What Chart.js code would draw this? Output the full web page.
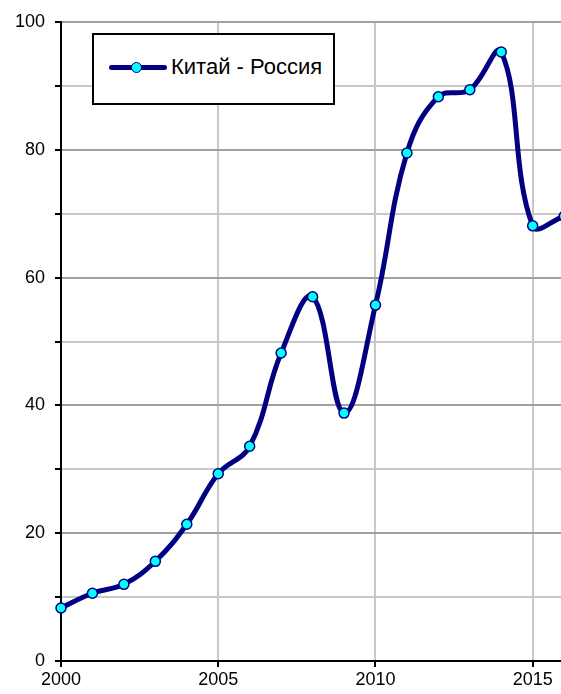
<!DOCTYPE html>
<html>
<head>
<meta charset="utf-8">
<script src="https://cdn.jsdelivr.net/npm/chart.js@4/dist/chart.umd.min.js"></script>
<style>
  html, body { margin: 0; padding: 0; background: #fff; }
  #wrap { position: relative; width: 561px; height: 694px; }
  #legend {
    position: absolute; left: 92px; top: 33px; width: 239px; height: 68px;
    border: 2px solid #000; background: #fff;
    font-family: Arial, "Liberation Sans", sans-serif; font-size: 22px; color: #000;
  }
  #legend .line { position: absolute; left: 15px; top: 30px; width: 58px; height: 5px; background: #000080; border-radius: 3px; }
  #legend .dot { position: absolute; left: 37px; top: 27px; width: 9px; height: 9px; border-radius: 50%; background: #00ffff; border: 1.5px solid #000080; }
  #legend .txt { position: absolute; left: 77px; top: 19px; line-height: 26px; }
</style>
</head>
<body>
<div id="wrap">
  <canvas id="chart" width="561" height="694"></canvas>
  <div id="legend"><div class="line"></div><div class="dot"></div><div class="txt">Китай - Россия</div></div>
</div>
<script>
// данные
const years = [2000, 2001, 2002, 2003, 2004, 2005, 2006, 2007, 2008, 2009, 2010, 2011, 2012, 2013, 2014, 2015, 2016];
const values = [8.3, 10.6, 12.0, 15.6, 21.4, 29.3, 33.6, 48.2, 57.0, 38.8, 55.7, 79.5, 88.3, 89.4, 95.3, 68.1, 69.6];
const seriesName = 'Китай - Россия';
const yTicks = [0, 20, 40, 60, 80, 100];
const xTicks = [2000, 2005, 2010, 2015];

const font = { family: 'Arial, "Liberation Sans", sans-serif', size: 18 };

new Chart(document.getElementById('chart'), {
  type: 'line',
  data: {
    datasets: [{
      label: seriesName,
      data: years.map((y, i) => ({ x: y, y: values[i] })),
      borderColor: '#000080',
      borderWidth: 5,
      backgroundColor: '#00ffff',
      pointBackgroundColor: '#00ffff',
      pointBorderColor: '#000080',
      pointBorderWidth: 1.5,
      pointRadius: 5,
      tension: 0.4,
      clip: false
    }]
  },
  options: {
    responsive: false,
    animation: false,
    layout: { autoPadding: false, padding: { top: 22, right: 0, left: 0, bottom: 0 } },
    plugins: { legend: { display: false }, tooltip: { enabled: false } },
    scales: {
      x: {
        type: 'linear',
        min: 2000,
        max: 2015.9,
        afterBuildTicks: s => { s.ticks = xTicks.map(v => ({ value: v })); },
        afterFit: s => { s.height = 33; s.paddingLeft = 0; s.paddingRight = 0; },
        ticks: { color: '#000', font: font, padding: 2, maxRotation: 0, callback: v => String(v) },
        grid: { color: '#c8c8c8', lineWidth: 2, tickColor: '#000', tickLength: 6 },
        border: { color: '#000', width: 2 }
      },
      y: {
        min: 0,
        max: 100,
        afterBuildTicks: s => {
          const t = [];
          for (let v = 0; v <= 100; v += 10) t.push({ value: v });
          s.ticks = t;
        },
        afterFit: s => { s.width = 61; s.paddingTop = 0; s.paddingBottom = 0; },
        ticks: {
          color: '#000', font: font, padding: 10,
          callback: v => yTicks.includes(v) ? String(v) : ''
        },
        grid: {
          color: c => (c.tick && c.tick.value % 20 === 0) ? '#a0a0a0' : '#c8c8c8',
          lineWidth: 2, tickColor: '#000', tickLength: 6
        },
        border: { color: '#000', width: 2 }
      }
    }
  }
});
</script>
</body>
</html>
